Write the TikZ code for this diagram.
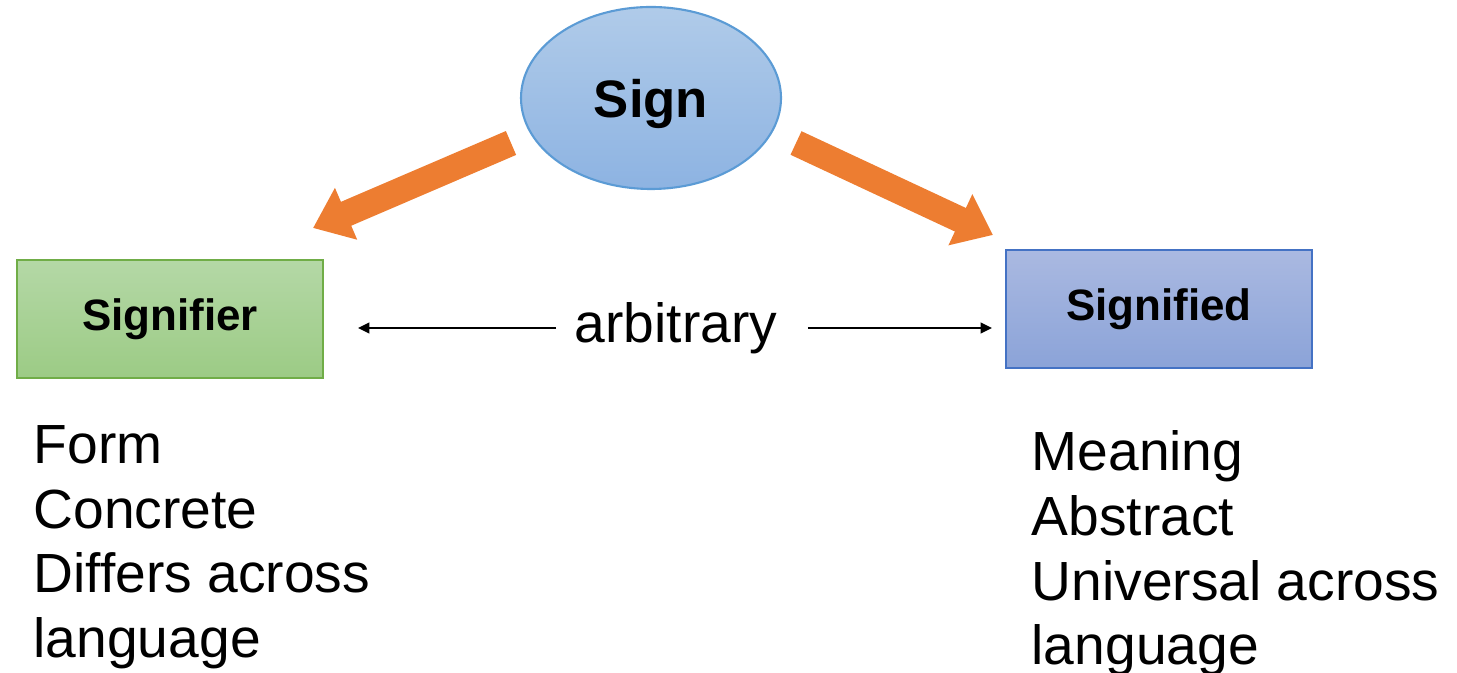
\documentclass[tikz,border=0pt]{standalone}
\usepackage{fontspec}
\setmainfont{Liberation Sans}
\usetikzlibrary{arrows.meta,shapes.geometric}
\definecolor{orangearr}{HTML}{ED7D31}
\definecolor{signtop}{HTML}{B0CBE9}
\definecolor{signbot}{HTML}{8DB3E2}
\definecolor{signline}{HTML}{5B9BD5}
\definecolor{greentop}{HTML}{B4D8A6}
\definecolor{greenbot}{HTML}{9CCB85}
\definecolor{greenline}{HTML}{70AD47}
\definecolor{bluetop}{HTML}{AAB9E1}
\definecolor{bluebot}{HTML}{8BA3D8}
\definecolor{blueline}{HTML}{4472C4}
\tikzset{
	signnode/.style={ellipse, draw=signline, line width=0.6pt, top color=signtop, bottom color=signbot,
		minimum width=2.6cm, minimum height=1.82cm, inner sep=0pt, text depth=0pt,
		font=\fontsize{15}{18}\selectfont\bfseries},
	termbox/.style={rectangle, line width=0.6pt, minimum width=3.06cm, minimum height=1.18cm,
		inner sep=0pt, font=\fontsize{12.5}{15}\selectfont\bfseries},
	fatarrow/.style={draw=orangearr, line width=2.6mm, -{Triangle[length=3.6mm,width=5.4mm]}},
	thinarrow/.style={draw=black, line width=0.55pt, -{Triangle[length=3.2pt,width=3pt]}},
	plaintext/.style={inner sep=0pt, font=\fontsize{15.7}{18.4}\selectfont},
	listtext/.style={plaintext, align=left, anchor=north west}
}
\begin{document}
\begin{tikzpicture}[x=0.1mm, y=-0.1mm]
			%%%%% START %%%%%
			\useasboundingbox (0,0) rectangle (1457,673);
			
			\node[signnode] (sign) at (651,98) {Sign};
			\node[termbox, draw=greenline, top color=greentop, bottom color=greenbot] (signifier) at (170,319) {Signifier};
			\node[termbox, draw=blueline, top color=bluetop, bottom color=bluebot] (signified) at (1159,309) {Signified};
			
			% arrows out of the sign
			\coordinate (lefttail) at (511,143);
			\coordinate (lefttip) at (313,228);
			\coordinate (righttail) at (796,143);
			\coordinate (righttip) at (993,235);
			\draw[fatarrow] (lefttail) -- (lefttip);
			\draw[fatarrow] (righttail) -- (righttip);
			
			\node[plaintext] (arb) at (676,328) {arbitrary};
			\draw[thinarrow, shorten <=1.8mm, shorten >=3.4mm] (arb.west) -- (arb.west -| signifier.east);
			\draw[thinarrow, shorten <=3mm, shorten >=1.3mm] (arb.east) -- (arb.east -| signified.west);
			
			\node[listtext] (formlist) at (33,425) {Form\\Concrete\\Differs across\\language};
			\node[listtext] (meaninglist) at (1031,430) {Meaning\\Abstract\\Universal across\\language};
			%%%%% END %%%%%
\end{tikzpicture}
\end{document}
